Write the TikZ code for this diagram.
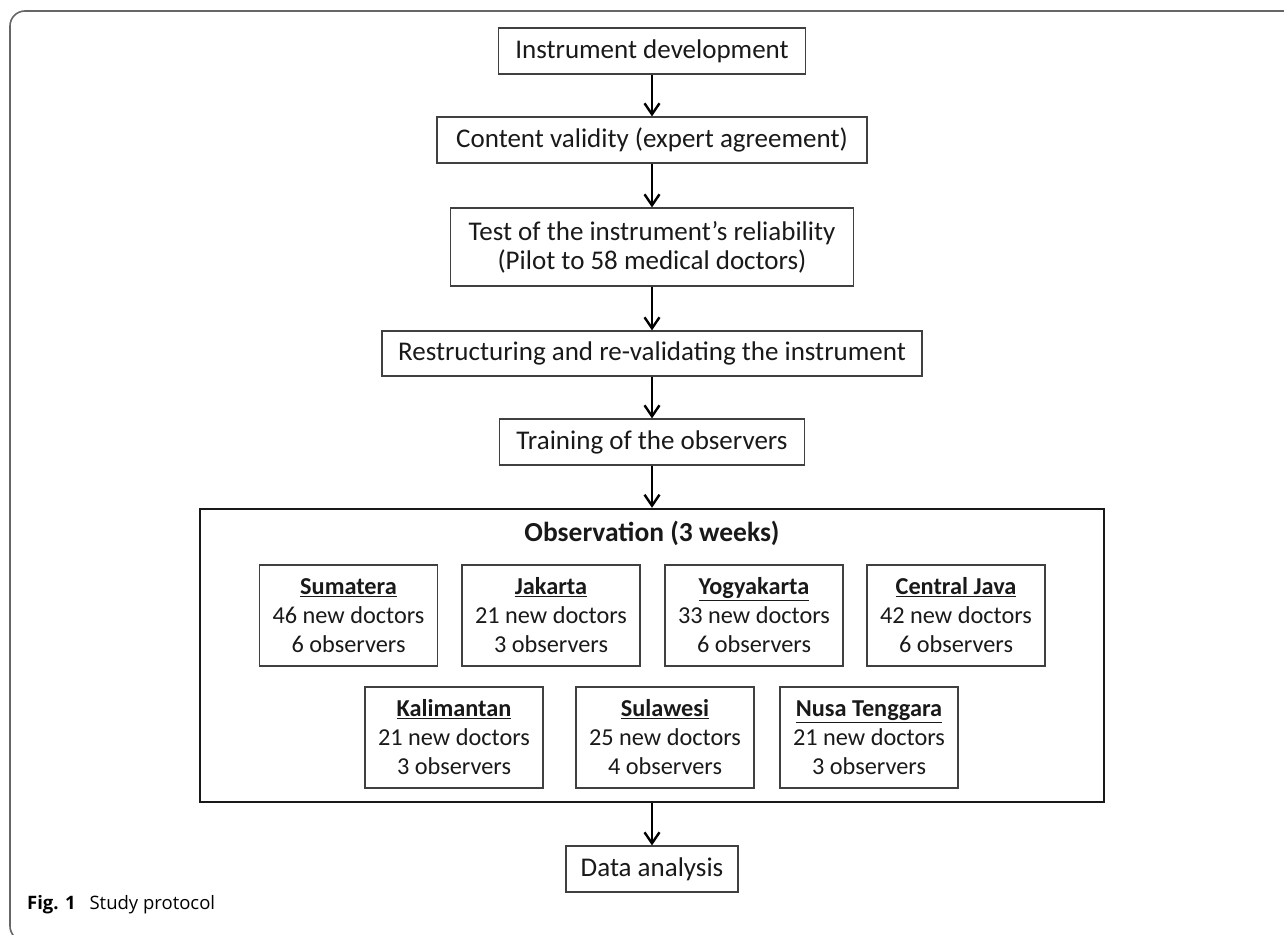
\documentclass[tikz,border=0pt]{standalone}
\usepackage{fontspec}
\setmainfont{Carlito}
\newfontfamily\capfont{Open Sans}
\usetikzlibrary{arrows.meta}
\begin{document}
\begin{tikzpicture}[x=1pt,y=-1pt,
  box/.style={draw=black!75, line width=1.2pt, minimum height=46pt, inner sep=0pt, align=center, font=\fontsize{27}{29}\selectfont, text=black!90},
  region/.style={box, minimum width=178pt, minimum height=101pt, font=\fontsize{24.3}{29}\selectfont},
  flow/.style={line width=2.4pt, -{Straight Barb[length=11pt,width=15pt]}},
  bigbox/.style={draw=black!90, line width=2.4pt, inner sep=0pt},
]
\useasboundingbox (0,0) rectangle (1284,934);
\clip (0,0) rectangle (1284,934);
\draw[black!60, line width=1.6pt, rounded corners=15pt] (1300,11) -- (10,11) -- (10,941) -- (1300,941);

\node[box, minimum width=307pt] (b1) at (652,51) {Instrument development};
\node[box, minimum width=430pt] (b2) at (652,140) {Content validity (expert agreement)};
\node[box, minimum width=403pt, minimum height=78pt] (b3) at (652,247) {Test of the instrument’s reliability\\(Pilot to 58 medical doctors)};
\node[box, minimum width=540pt, minimum height=45pt] (b4) at (652,353.5) {Restructuring and re-validating the instrument};
\node[box, minimum width=305pt] (b5) at (652,442) {Training of the observers};
\node[bigbox, minimum width=904pt, minimum height=293pt] (obs) at (652,655.5) {};
\node[font=\bfseries\fontsize{27.5}{29}\selectfont, text=black!90] (title) at (652,533) {Observation (3 weeks)};

\node[region] (sum) at (348.5,615.5) {\textbf{\underline{Sumatera}}\\46 new doctors\\6 observers};
\node[region] (jak) at (551,615.5) {\textbf{\underline{Jakarta}}\\21 new doctors\\3 observers};
\node[region] (yog) at (754,615.5) {\textbf{\underline{Yogyakarta}}\\33 new doctors\\6 observers};
\node[region] (cj) at (956,615.5) {\textbf{\underline{Central Java}}\\42 new doctors\\6 observers};
\node[region] (kal) at (454,737.5) {\textbf{\underline{Kalimantan}}\\21 new doctors\\3 observers};
\node[region] (sul) at (665,737.5) {\textbf{\underline{Sulawesi}}\\25 new doctors\\4 observers};
\node[region] (nt) at (869,737.5) {\textbf{\underline{Nusa Tenggara}}\\21 new doctors\\3 observers};

\node[box, minimum width=172pt] (da) at (652,869) {Data analysis};

\draw[flow] (b1) -- (b2);
\draw[flow] (b2) -- (b3);
\draw[flow] (b3) -- (b4);
\draw[flow] (b4) -- (b5);
\draw[flow] (b5) -- (obs);
\draw[flow] (obs) -- (da);

\node[anchor=west, font=\capfont\fontsize{18.5}{20}\selectfont, inner sep=0pt] (cap) at (27,905) {\textbf{Fig. 1}\hspace{0.75em}Study protocol};
\end{tikzpicture}
\end{document}
